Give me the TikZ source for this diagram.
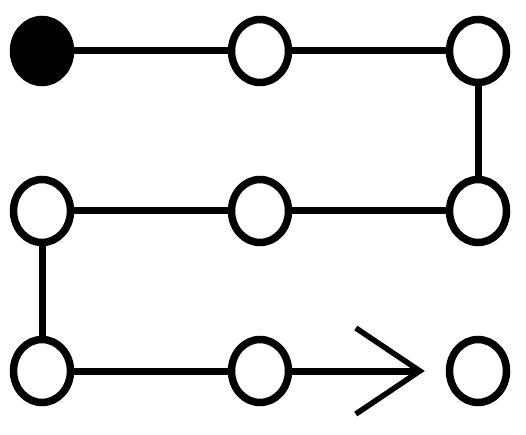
\documentclass[tikz,border=0pt]{standalone}
\usetikzlibrary{shapes.geometric,arrows.meta}
\begin{document}
\begin{tikzpicture}
[x=1pt,y=-1pt,%
  lineDecorate/.style={-,line width=7pt},%
  arrowDecorate/.style={-{Straight Barb[length=64pt,width=86pt,line width=5.5pt]},line width=7pt,shorten >=21pt},%
  nodeDecorate/.style={shape=ellipse,minimum width=57pt,minimum height=63pt,inner sep=0pt,draw,line width=7.5pt,fill=white},%
  startDecorate/.style={nodeDecorate,fill=black}]
\useasboundingbox (0,0) rectangle (526,435);
%% nodes or vertices
\foreach \nodename/\x/\y/\kind in {1/42/51/startDecorate, 2/260/51/nodeDecorate, 3/478/51/nodeDecorate,
  4/42/211/nodeDecorate, 5/260/211/nodeDecorate, 6/478/211/nodeDecorate,
  7/42/371/nodeDecorate, 8/260/371/nodeDecorate, 9/478/371/nodeDecorate}
{
  \node (\nodename) at (\x,\y) [\kind] {};
}
%% edges or lines
\path
\foreach \startnode/\endnode in {1/2, 2/3, 3/6, 6/5, 5/4, 4/7, 7/8}
{
  (\startnode) edge[lineDecorate] (\endnode)
};
\path (8) edge[arrowDecorate] (9);
\end{tikzpicture}
\end{document}
